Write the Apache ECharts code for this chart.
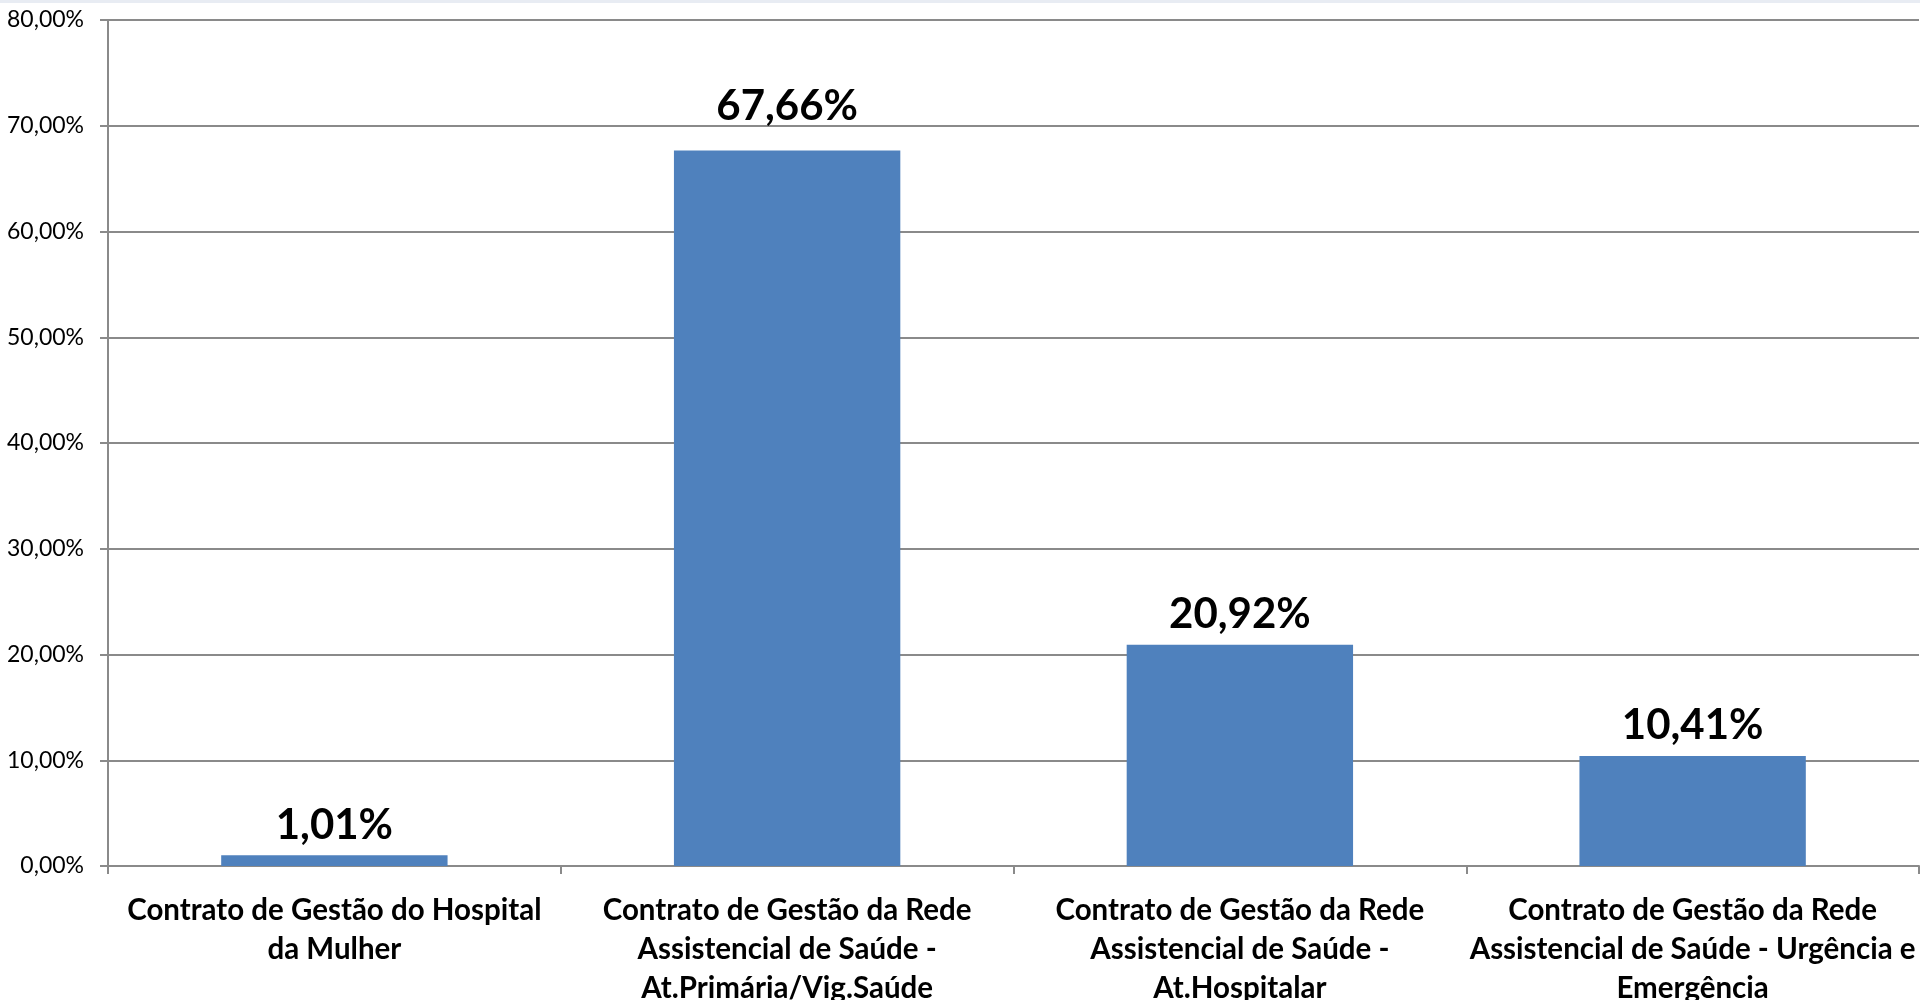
<!DOCTYPE html>
<html>
<head>
<meta charset="utf-8">
<script src="https://cdn.jsdelivr.net/npm/echarts@6/dist/echarts.min.js"></script>
<style>
  html, body { margin: 0; padding: 0; background: #ffffff; }
  #chart { width: 1920px; height: 1000px; }
</style>
</head>
<body>
<div id="chart"></div>
<script>
// Contract categories (line breaks follow the wrapped axis labels)
const categories = [
  'Contrato de Gestão do Hospital\nda Mulher',
  'Contrato de Gestão da Rede\nAssistencial de Saúde -\nAt.Primária/Vig.Saúde',
  'Contrato de Gestão da Rede\nAssistencial de Saúde -\nAt.Hospitalar',
  'Contrato de Gestão da Rede\nAssistencial de Saúde - Urgência e\nEmergência'
];
// Share of each contract, in percent
const shares = [1.01, 67.66, 20.92, 10.41];
// Extra gap above the bar for each value label
const labelGaps = [9, 23, 9, 9];

const pct = v => v.toFixed(2).replace('.', ',') + '%';
const gridColor = '#8a8a8a';

const chart = echarts.init(document.getElementById('chart'));
chart.setOption({
  animation: false,
  backgroundColor: '#ffffff',
  graphic: [{
    type: 'rect',
    shape: { x: 0, y: 0, width: 1920, height: 3 },
    style: { fill: '#e8ecf3' },
    silent: true
  }],
  grid: {
    left: 108, right: 1, top: 20, bottom: 134,
    containLabel: false,
    outerBoundsMode: 'none'
  },
  xAxis: {
    type: 'category',
    data: categories,
    axisLine: { lineStyle: { color: gridColor, width: 2 } },
    axisTick: { show: true, alignWithLabel: false, length: 8, lineStyle: { color: gridColor, width: 2 } },
    axisLabel: {
      interval: 0,
      margin: 25,
      color: '#000000',
      fontFamily: 'Lato',
      fontWeight: 'bold',
      fontSize: 29.5,
      lineHeight: 39,
      align: 'center'
    }
  },
  yAxis: {
    type: 'value',
    min: 0,
    max: 80,
    interval: 10,
    axisLine: { show: true, lineStyle: { color: gridColor, width: 2 } },
    axisTick: { show: true, length: 8, lineStyle: { color: gridColor, width: 2 } },
    splitLine: { lineStyle: { color: gridColor, width: 2 } },
    axisLabel: {
      margin: 24,
      color: '#000000',
      fontFamily: 'Lato',
      fontSize: 23,
      formatter: v => pct(v)
    }
  },
  series: [{
    type: 'bar',
    barWidth: '50%',
    data: shares.map((v, i) => ({
      value: v,
      label: { distance: labelGaps[i] }
    })),
    itemStyle: { color: '#4f81bd' },
    label: {
      show: true,
      position: 'top',
      color: '#000000',
      fontFamily: 'Lato',
      fontWeight: 'bold',
      fontSize: 42,
      lineHeight: 42,
      formatter: p => pct(p.value)
    }
  }]
});
</script>
</body>
</html>
